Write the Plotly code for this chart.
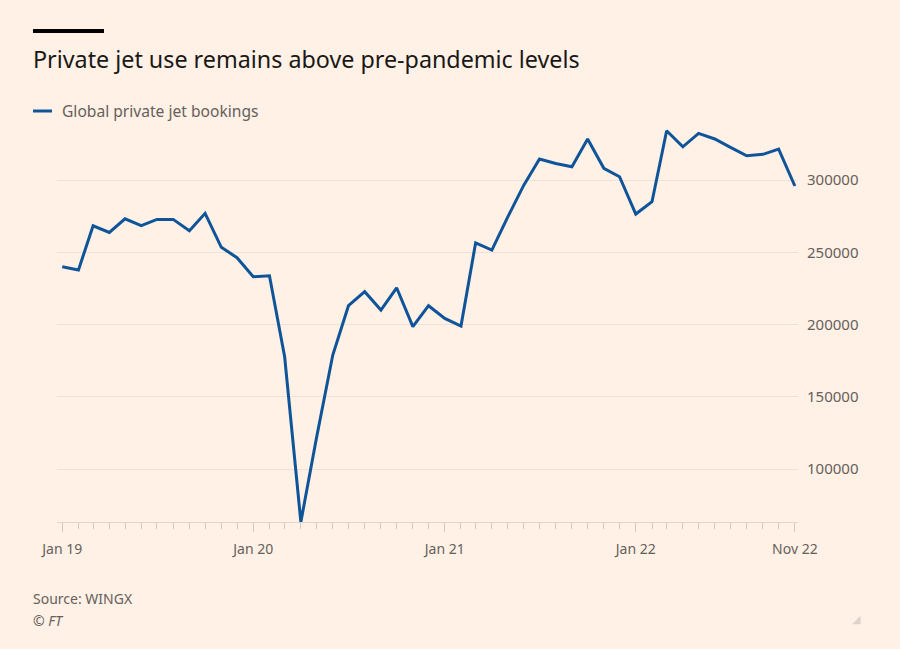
import pandas as pd
import plotly.graph_objects as go

# monthly bookings, Jan 2019 - Nov 2022
months = pd.date_range("2019-01-01", "2022-11-01", freq="MS")
bookings = [
    240000, 237800, 268400, 263800, 273200, 268400, 272800, 272800, 265000, 277000, 253500, 246300,
    233100, 233800, 177800, 63500, 122000, 179000, 213100, 222800, 210100, 225500, 198600, 213100,
    204300, 199000, 256600, 251600, 274200, 296500, 314500, 311500, 309200, 328400, 308100, 302300,
    276500, 285000, 334100, 323000, 332300, 328400, 322600, 316800, 317800, 321400, 295900,
]
tick_dates = ["2019-01-01", "2020-01-01", "2021-01-01", "2022-01-01", "2022-11-01"]
tick_text = ["Jan 19", "Jan 20", "Jan 21", "Jan 22", "Nov 22"]
y_ticks = [100000, 150000, 200000, 250000, 300000]

title = "Private jet use remains above pre-pandemic levels"
series_name = "Global private jet bookings"

W, H = 900, 649
ML, MR, MT, MB = 57, 102, 128, 127
BG = "#FFF1E5"
BLUE = "#0F5499"
GREY = "#66605C"
FONT = "Noto Sans"


def px_x(p):
    return (p - ML) / (W - ML - MR)


def px_y(p):
    return (H - MB - p) / (H - MT - MB)


fig = go.Figure()
fig.add_trace(go.Scatter(
    x=months, y=bookings, mode="lines", name=series_name,
    line=dict(color=BLUE, width=3), showlegend=False,
))

fig.update_layout(
    width=W, height=H,
    margin=dict(l=ML, r=MR, t=MT, b=MB),
    paper_bgcolor=BG, plot_bgcolor=BG,
    font=dict(family=FONT, color=GREY, size=14),
    title=dict(text=title, xref="container", yref="container",
               x=33 / W, xanchor="left", y=1 - 60 / H, yanchor="middle",
               font=dict(family=FONT, size=23.3, color="#1a1817")),
)

fig.update_xaxes(
    range=["2018-12-22", "2022-11-07"],
    tickmode="array", tickvals=tick_dates, ticktext=tick_text,
    ticks="outside", ticklen=9, tickcolor="#d4c8be", tickwidth=1,
    ticklabelstandoff=5,
    minor=dict(tickmode="array", tickvals=list(months), ticks="outside",
               ticklen=6, tickcolor="#d4c8be", tickwidth=1),
    showline=True, linecolor="#e2d6cc", linewidth=1,
    showgrid=False, zeroline=False,
    tickfont=dict(size=14, color=GREY),
)
fig.update_yaxes(
    range=[63500, 336000], side="right",
    tickmode="array", tickvals=y_ticks, tickformat="d",
    ticks="", ticklabelstandoff=8,
    showgrid=True, gridcolor="#EEE2D8", gridwidth=1,
    zeroline=False, showline=False,
    tickfont=dict(size=15, color=GREY),
)

# FT top bar, legend key, source
fig.add_shape(type="rect", xref="paper", yref="paper",
              x0=px_x(33), x1=px_x(104), y0=px_y(29), y1=px_y(33),
              fillcolor="#000000", line_width=0)
fig.add_shape(type="line", xref="paper", yref="paper",
              x0=px_x(33), x1=px_x(52), y0=px_y(111), y1=px_y(111),
              line=dict(color=BLUE, width=3))
fig.add_annotation(text=series_name, xref="paper", yref="paper",
                   x=px_x(60), y=px_y(111), xanchor="left", yanchor="middle",
                   showarrow=False, font=dict(size=15.6, color=GREY))
fig.add_annotation(text="Source: WINGX", xref="paper", yref="paper",
                   x=px_x(31), y=px_y(598), xanchor="left", yanchor="middle",
                   showarrow=False, font=dict(size=14, color=GREY))
fig.add_annotation(text="<i>© FT</i>", xref="paper", yref="paper",
                   x=px_x(31), y=px_y(620), xanchor="left", yanchor="middle",
                   showarrow=False, font=dict(size=14, color=GREY))
fig.add_annotation(text="◢", xref="paper", yref="paper",
                   x=px_x(863), y=px_y(618), xanchor="right", yanchor="middle",
                   showarrow=False, font=dict(size=11, color="#DDD3CA"))

# drop the page margin so the figure sits at the window's corner
fig.write_html("out.html", config={"displayModeBar": False},
               post_script="document.body.style.margin='0';"
               "document.body.style.background='" + BG + "';")
